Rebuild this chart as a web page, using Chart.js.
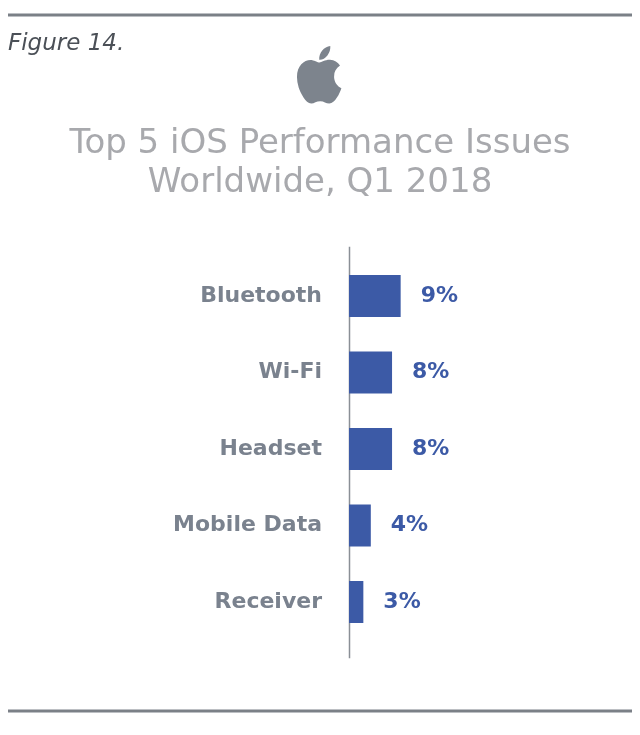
<!DOCTYPE html>
<html>
<head>
<meta charset="utf-8">
<title>Top 5 iOS Performance Issues</title>
<script src="https://cdn.jsdelivr.net/npm/chart.js@4.4.1/dist/chart.umd.min.js"></script>
<style>
html, body { margin: 0; padding: 0; background: #fff; }
#wrap { position: relative; width: 640px; height: 735px; }
</style>
</head>
<body>
<div id="wrap"><canvas id="issuesChart"></canvas></div>
<script>
// data (bar lengths), labels as printed
const issueNames = ['Bluetooth', 'Wi-Fi', 'Headset', 'Mobile Data', 'Receiver'];
const issueShares = [9.0, 7.5, 7.5, 3.8, 2.5];
const shareLabels = ['9%', '8%', '8%', '4%', '3%'];
const titleLines = ['Top 5 iOS Performance Issues', 'Worldwide, Q1 2018'];
const figureLabel = 'Figure 14.';

const BLUE = '#3c5aa6';
const LABEL_GREY = '#7a828e';
const RULE_GREY = '#7b8087';

const applePath = new Path2D('M318.7 268.7c-.2-36.7 16.4-64.4 50-84.8-18.8-26.9-47.2-41.7-84.7-44.6-35.5-2.8-74.3 20.7-88.5 20.7-15 0-49.4-19.7-76.4-19.7C63.3 141.2 4 184.8 4 273.5q0 39.3 14.4 81.2c12.8 36.7 59 126.7 107.2 125.2 25.2-.6 43-17.9 75.8-17.9 31.8 0 48.3 17.9 76.4 17.9 48.6-.7 90.4-82.5 102.6-119.3-65.2-30.7-61.7-90-61.7-91.9zm-56.6-164.2c27.3-32.4 24.8-61.9 24-72.5-24.1 1.4-52 16.4-67.9 34.9-17.5 19.8-27.8 44.3-25.6 71.9 26.1 2 49.9-11.4 69.5-34.3z');

// header, rules, axis line and value labels
const decorations = {
    id: 'decorations',
    beforeDatasetsDraw(chart) {
        const ctx = chart.ctx
        const area = chart.chartArea
        ctx.save()
        ctx.strokeStyle = '#8a8f96'
        ctx.lineWidth = 1.5
        ctx.beginPath()
        ctx.moveTo(area.left + 0.5, area.top - 11)
        ctx.lineTo(area.left + 0.5, area.bottom + 18)
        ctx.stroke()
        ctx.restore()
    },
    afterDraw(chart) {
        const ctx = chart.ctx
        const w = chart.width
        ctx.save()

        // top and bottom rules
        ctx.strokeStyle = RULE_GREY
        ctx.lineWidth = 3
        ctx.beginPath()
        ctx.moveTo(8, 15); ctx.lineTo(w - 8, 15)
        ctx.moveTo(8, 711); ctx.lineTo(w - 8, 711)
        ctx.stroke()

        // figure number
        ctx.fillStyle = '#4b5057'
        ctx.font = 'italic 23px "DejaVu Sans"'
        ctx.textAlign = 'left'
        ctx.textBaseline = 'alphabetic'
        ctx.fillText(figureLabel, 8, 50)

        // apple logo
        ctx.save()
        ctx.translate(296.5, 42)
        ctx.scale(0.118, 0.128)
        ctx.fillStyle = '#7d848d'
        ctx.fill(applePath)
        ctx.restore()

        // title
        ctx.fillStyle = '#a8a9ad'
        ctx.font = '34px "DejaVu Sans"'
        ctx.textAlign = 'center'
        ctx.fillText(titleLines[0], w / 2, 153)
        ctx.fillText(titleLines[1], w / 2, 192)

        // value labels next to bars
        const meta = chart.getDatasetMeta(0)
        ctx.fillStyle = BLUE
        ctx.font = 'bold 22px "DejaVu Sans"'
        ctx.textAlign = 'left'
        ctx.textBaseline = 'middle'
        meta.data.forEach((bar, i) => {
            ctx.fillText(shareLabels[i], bar.x + 20, bar.y)
        })
        ctx.restore()
    }
}

const data = {
    labels: issueNames,
    datasets: [{
        data: issueShares,
        backgroundColor: BLUE,
        borderWidth: 0,
        barPercentage: 1,
        categoryPercentage: 0.55
    }]
}

const config = {
    type: 'bar',
    data: data,
    options: {
        indexAxis: 'y',
        responsive: true,
        maintainAspectRatio: false,
        animation: false,
        layout: {
            padding: { left: 0, right: 233.6, top: 257.75, bottom: 94.75 }
        },
        plugins: {
            legend: { display: false },
            tooltip: { enabled: false },
            title: { display: false }
        },
        scales: {
            x: {
                display: false,
                min: 0,
                max: 10
            },
            y: {
                grid: { display: false, drawTicks: false },
                border: { display: false },
                ticks: {
                    color: LABEL_GREY,
                    padding: 27,
                    font: { family: '"DejaVu Sans"', size: 22, weight: 'bold' }
                },
                afterFit(scale) {
                    scale.width = 349
                }
            }
        }
    },
    plugins: [decorations]
}

let ctx = document.getElementById('issuesChart').getContext('2d')
new Chart(ctx, config)
</script>
</body>
</html>
